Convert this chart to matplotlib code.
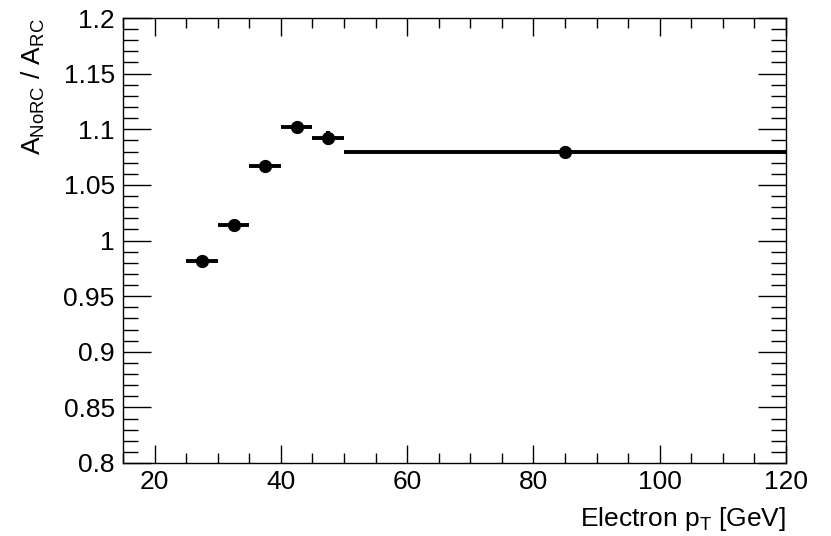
import numpy as np
import matplotlib.pyplot as plt
from matplotlib.ticker import MultipleLocator

# Verhaeltnis A_NoRC / A_RC in pT-Bins
bin_lo = np.array([25, 30, 35, 40, 45, 50])
bin_hi = np.array([30, 35, 40, 45, 50, 120])
ratio = np.array([0.982, 1.014, 1.067, 1.102, 1.092, 1.080])
ratio_err = np.array([0.002, 0.002, 0.002, 0.002, 0.006, 0.005])

plt.rcParams['font.family'] = ['Liberation Sans', 'DejaVu Sans']

fig = plt.figure(figsize=(8.31, 5.36), dpi=100)
ax = fig.add_axes([123/831, 1 - 463/536, (786-123)/831, (463-18)/536])

x_center = 0.5 * (bin_lo + bin_hi)
x_err = 0.5 * (bin_hi - bin_lo)

ax.errorbar(x_center, ratio, xerr=x_err, yerr=ratio_err, fmt='o', color='black',
            ms=8.5, elinewidth=2.8, capsize=0)

ax.set_xlim(15, 120)
ax.set_ylim(0.8, 1.2)
ax.xaxis.set_major_locator(MultipleLocator(20))
ax.xaxis.set_minor_locator(MultipleLocator(5))
ax.yaxis.set_major_locator(MultipleLocator(0.05))
ax.yaxis.set_minor_locator(MultipleLocator(0.01))
ax.yaxis.set_major_formatter(plt.FuncFormatter(lambda v, p: f'{v:.2f}'.rstrip('0').rstrip('.')))

ax.tick_params(which='both', direction='in', top=True, right=True, labelsize=19, width=1)
ax.tick_params(axis='x', which='major', length=13, pad=5)
ax.tick_params(axis='x', which='minor', length=7)
ax.tick_params(axis='y', which='major', length=20, pad=6)
ax.tick_params(axis='y', which='minor', length=11)
for s in ax.spines.values():
    s.set_linewidth(1)

ax.set_xlabel(r'Electron p$_{\mathregular{T}}$ [GeV]', fontsize=19, loc='right', labelpad=8)
ax.set_ylabel(r'A$_{\mathregular{NoRC}}$ / A$_{\mathregular{RC}}$', fontsize=19, loc='top', labelpad=12)

fig.savefig('out.png', dpi=100)
